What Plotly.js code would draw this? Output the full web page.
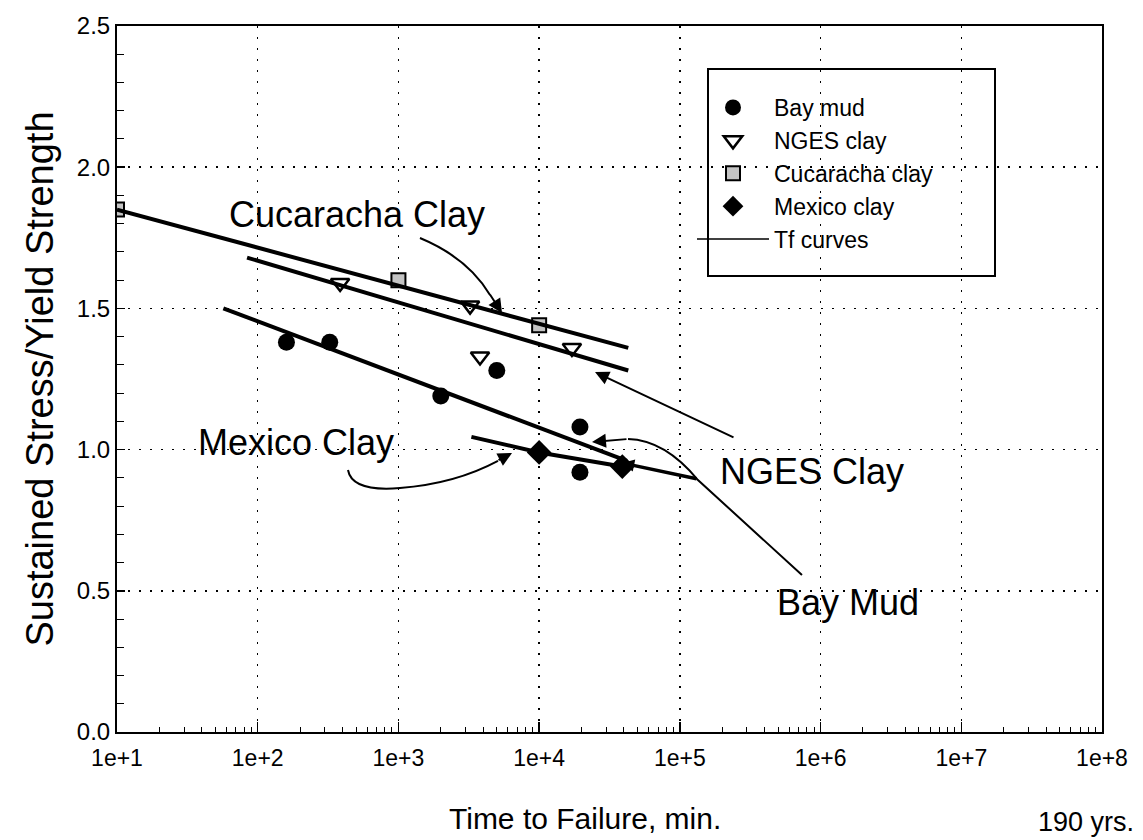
<!DOCTYPE html>
<html>
<head>
<meta charset="utf-8">
<script src="https://cdn.plot.ly/plotly-3.0.1.min.js"></script>
<style>html,body{margin:0;padding:0;background:#fff;}</style>
</head>
<body>
<div id="chart" style="width:1143px;height:840px;"></div>
<script>
// ---- data ----
const xTickVals = [10, 100, 1000, 10000, 100000, 1000000, 10000000, 100000000];
const xTickText = ['1e+1', '1e+2', '1e+3', '1e+4', '1e+5', '1e+6', '1e+7', '1e+8'];

const bayMudX = [160, 325, 2000, 5000, 19500, 19500];
const bayMudY = [1.38, 1.38, 1.19, 1.28, 1.08, 0.92];

const ngesX = [385, 3230, 3800, 17100];
const ngesY = [1.59, 1.51, 1.33, 1.36];

const cucX = [10, 1000, 10000];
const cucY = [1.85, 1.60, 1.44];

const mexX = [10000, 39000];
const mexY = [0.99, 0.94];

const tfCucX = [10, 43000];
const tfCucY = [1.85, 1.36];
const tfNgesX = [84, 43000];
const tfNgesY = [1.68, 1.28];
const tfBayX = [57, 42000];
const tfBayY = [1.50, 0.96];
const tfMexX = [3300, 10000, 45000];
const tfMexY = [1.045, 0.99, 0.935];

// ---- layout helpers (pixel -> paper) ----
const L = 117, R = 41, T = 26, B = 108, W = 1143, H = 840;
const PW = W - L - R, PH = H - T - B;
function px(x) { return (x - L) / PW; }
function py(y) { return (H - B - y) / PH; }
function P(x, y) { return px(x).toFixed(4) + ',' + py(y).toFixed(4); }

const FONT = 'Liberation Sans, Arial, Helvetica, sans-serif';

const tfLine = {color: '#000', width: 4};
const traces = [
  {x: bayMudX, y: bayMudY, name: 'Bay mud', mode: 'markers', type: 'scatter', legendgroup: 'a',
   marker: {symbol: 'circle', size: 17, color: '#000'}},
  {x: ngesX, y: ngesY, name: 'NGES clay', mode: 'markers', type: 'scatter', legendgroup: 'b',
   marker: {symbol: 'triangle-down-open', size: 16, color: '#000', line: {width: 2.5, color: '#000'}}},
  {x: cucX, y: cucY, name: 'Cucaracha clay', mode: 'markers', type: 'scatter', legendgroup: 'c',
   marker: {symbol: 'square', size: 14, color: '#c4c4c4', line: {width: 2, color: '#000'}}},
  {x: mexX, y: mexY, name: 'Mexico clay', mode: 'markers', type: 'scatter', legendgroup: 'd',
   marker: {symbol: 'diamond', size: 19, color: '#000'}},
  {x: [null], y: [null], name: 'Tf curves', mode: 'lines', type: 'scatter', legendgroup: 'e',
   line: {color: '#000', width: 1.5}, hoverinfo: 'skip'},
  {x: tfCucX, y: tfCucY, mode: 'lines', type: 'scatter', showlegend: false, line: tfLine, hoverinfo: 'skip'},
  {x: tfNgesX, y: tfNgesY, mode: 'lines', type: 'scatter', showlegend: false, line: tfLine, hoverinfo: 'skip'},
  {x: tfBayX, y: tfBayY, mode: 'lines', type: 'scatter', showlegend: false, line: tfLine, hoverinfo: 'skip'},
  {x: tfMexX, y: tfMexY, mode: 'lines', type: 'scatter', showlegend: false, line: tfLine, hoverinfo: 'skip'}
];

function label(text, x, y, size) {
  return {text: text, xref: 'paper', yref: 'paper', x: px(x), y: py(y), showarrow: false,
          xanchor: 'center', yanchor: 'middle', font: {family: FONT, size: size, color: '#000'}};
}
function arrow(hx, hy, tx, ty, w, s) {
  return {text: '', xref: 'paper', yref: 'paper', x: px(hx), y: py(hy), ax: tx - hx, ay: ty - hy,
          showarrow: true, arrowhead: 2, arrowsize: s || 1.4, arrowwidth: w || 2, arrowcolor: '#000'};
}

const annotations = [
  label('Cucaracha Clay', 357, 214, 36),
  label('Mexico Clay', 296, 442, 36),
  label('NGES Clay', 812, 472, 36),
  label('Bay Mud', 848, 602, 36),
  label('Time to Failure, min.', 585, 818, 30),
  {text: '190 yrs.', xref: 'paper', yref: 'paper', x: px(1136), y: py(822), showarrow: false,
   xanchor: 'right', yanchor: 'middle', font: {family: FONT, size: 27, color: '#000'}},
  arrow(502, 313, 489, 293, 2),
  arrow(595, 372, 735, 438, 2),
  arrow(592, 442, 628, 439, 2),
  arrow(622, 463, 698, 479, 3.5, 0.7),
  arrow(512, 453, 497, 461, 2)
];

const shapes = [
  // legend box
  {type: 'rect', xref: 'paper', yref: 'paper', x0: px(708), x1: px(995), y0: py(276), y1: py(69),
   line: {color: '#000', width: 2}, fillcolor: 'rgba(255,255,255,1)', layer: 'below'},
  // annotation curves
  {type: 'path', xref: 'paper', yref: 'paper', path: 'M' + P(420, 238) + ' Q' + P(468, 258) + ' ' + P(490, 295),
   line: {color: '#000', width: 2}},
  {type: 'path', xref: 'paper', yref: 'paper', path: 'M' + P(802, 575) + ' L' + P(698, 480) + ' Q' + P(665, 440) + ' ' + P(628, 439),
   line: {color: '#000', width: 2}},
  {type: 'path', xref: 'paper', yref: 'paper', path: 'M' + P(348, 470) + ' Q' + P(352, 492) + ' ' + P(400, 488) + ' Q' + P(455, 484) + ' ' + P(498, 461),
   line: {color: '#000', width: 2}}
];

const layout = {
  width: W, height: H,
  margin: {l: L, r: R, t: T, b: B},
  paper_bgcolor: '#fff', plot_bgcolor: '#fff',
  font: {family: FONT, color: '#000'},
  showlegend: true,
  legend: {x: px(692), y: py(86), xanchor: 'left', yanchor: 'top', bgcolor: 'rgba(0,0,0,0)',
           borderwidth: 0, font: {family: FONT, size: 23, color: '#000'}, itemwidth: 72,
           tracegroupgap: 4, traceorder: 'normal'},
  xaxis: {
    type: 'log', range: [1, 8], tickvals: xTickVals, ticktext: xTickText,
    showline: true, linecolor: '#000', linewidth: 2, mirror: true,
    ticks: 'inside', ticklen: 10, tickcolor: '#000', tickwidth: 1.5,
    minor: {ticks: 'inside', ticklen: 5, tickcolor: '#000', tickwidth: 1, dtick: 'D1', showgrid: false},
    showgrid: true, gridcolor: '#000', gridwidth: 1.5, griddash: '2px,9px',
    zeroline: false, ticklabelstandoff: 4,
    tickfont: {family: FONT, size: 23, color: '#000'}
  },
  yaxis: {
    range: [0, 2.5], dtick: 0.5, tick0: 0, tickformat: '.1f',
    showline: true, linecolor: '#000', linewidth: 2, mirror: true,
    ticks: 'inside', ticklen: 8, tickcolor: '#000', tickwidth: 1.5,
    minor: {ticks: 'inside', ticklen: 7, tickcolor: '#000', tickwidth: 1, dtick: 0.1, showgrid: false},
    showgrid: true, gridcolor: '#000', gridwidth: 1.5, griddash: '2px,9px',
    zeroline: false,
    tickfont: {family: FONT, size: 24, color: '#000'},
    title: {text: 'Sustained Stress/Yield Strength', standoff: 12, font: {family: FONT, size: 38, color: '#000'}}
  },
  annotations: annotations,
  shapes: shapes
};

Plotly.newPlot('chart', traces, layout, {displayModeBar: false, staticPlot: true});
</script>
</body>
</html>
